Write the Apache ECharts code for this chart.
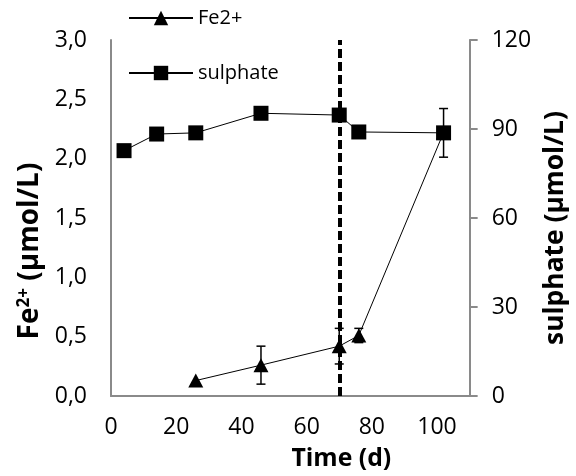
<!DOCTYPE html>
<html>
<head>
<meta charset="utf-8">
<script src="https://cdn.jsdelivr.net/npm/echarts@6/dist/echarts.min.js"></script>
<style>
  html, body { margin: 0; padding: 0; background: #fff; }
  #chart { width: 576px; height: 476px; }
</style>
</head>
<body>
<div id="chart"></div>
<script>
// Sampling days and measured concentrations
const sulphateDays = [4, 14, 26, 46, 70, 76, 102];
const sulphateValues = [82.7, 88.3, 88.7, 95.3, 94.7, 89.0, 88.7];   // µmol/L
const sulphateErrors = [null, null, null, null, null, null, 8.2];

const ironDays = [26, 46, 70, 76, 102];
const ironValues = [0.13, 0.26, 0.42, 0.51, 2.22];                    // µmol/L
const ironErrors = [null, 0.16, 0.15, 0.06, null];

const transitionDay = 70.3;

const xTicks = [0, 20, 40, 60, 80, 100];
const ironTicks = ['0,0', '0,5', '1,0', '1,5', '2,0', '2,5', '3,0'];
const sulphateTicks = [0, 30, 60, 90, 120];

const FONT = '"Open Sans", "Liberation Sans", sans-serif';
const AXIS_GREY = '#8a8a8a';

// Pick a bold font size so a title spans the wanted length in pixels
function fitBold(text, width) {
  const ctx = document.createElement('canvas').getContext('2d');
  ctx.font = 'bold 100px ' + FONT;
  return Math.round(100 * width / ctx.measureText(text).width * 10) / 10;
}

function pairs(xs, ys) {
  return xs.map((x, i) => [x, ys[i]]);
}
function errorRows(xs, ys, errs) {
  const rows = [];
  xs.forEach((x, i) => {
    if (errs[i] != null) rows.push([x, ys[i] - errs[i], ys[i] + errs[i]]);
  });
  return rows;
}

function renderErrorBar(params, api) {
  const x = api.value(0);
  const lo = api.coord([x, api.value(1)]);
  const hi = api.coord([x, api.value(2)]);
  const half = 4.5;
  const style = { stroke: '#000', lineWidth: 1.5 };
  return {
    type: 'group',
    children: [
      { type: 'line', shape: { x1: lo[0], y1: lo[1], x2: hi[0], y2: hi[1] }, style },
      { type: 'line', shape: { x1: hi[0] - half, y1: hi[1], x2: hi[0] + half, y2: hi[1] }, style },
      { type: 'line', shape: { x1: lo[0] - half, y1: lo[1], x2: lo[0] + half, y2: lo[1] }, style }
    ]
  };
}

const chart = echarts.init(document.getElementById('chart'), null, { renderer: 'canvas' });

const legendText = { fontFamily: FONT, fontSize: 20, color: '#000' };
const rightTitleSize = fitBold('sulphate (µmol/L)', 234);
const leftTitleSize = 28;
const timeTitleSize = fitBold('Time (d)', 100);
const boldText = size => ({ fontFamily: FONT, fontSize: size, fontWeight: 'bold', color: '#000' });

chart.setOption({
  animation: false,
  backgroundColor: '#fff',
  textStyle: { fontFamily: FONT },
  grid: { left: 111, right: 101, top: 40, bottom: 76, containLabel: false },
  legend: [
    {
      data: ['Fe2+'], left: 128, top: 8, itemWidth: 64, itemHeight: 18, itemGap: 10,
      textStyle: legendText, padding: 0
    },
    {
      data: ['sulphate'], left: 128, top: 63, itemWidth: 64, itemHeight: 18, itemGap: 10,
      textStyle: legendText, padding: 0
    }
  ],
  xAxis: {
    type: 'value', min: 0, max: 110, interval: 20,
    name: 'Time (d)', nameLocation: 'middle', nameGap: 50,
    nameTextStyle: Object.assign(boldText(timeTitleSize), { padding: [0, 0, 0, 102] }),
    axisLine: { lineStyle: { color: AXIS_GREY, width: 2 } },
    axisTick: { show: false },
    splitLine: { show: false },
    axisLabel: {
      fontFamily: FONT, fontSize: 23, color: '#000', margin: 20, showMaxLabel: false,
      formatter: v => (xTicks.includes(v) ? String(v) : '')
    }
  },
  yAxis: [
    {
      type: 'value', min: 0, max: 3, interval: 0.5, position: 'left',
      name: '{b|Fe}{s|2+}{b| (µmol/L)}', nameLocation: 'middle', nameGap: 64, nameRotate: 90,
      nameTextStyle: {
        padding: [0, 66, 0, 0],
        rich: {
          b: boldText(leftTitleSize),
          s: { fontFamily: FONT, fontSize: 17, fontWeight: 'bold', color: '#000', verticalAlign: 'top', padding: [0, 0, 11, 0] }
        }
      },
      axisLine: { show: true, lineStyle: { color: AXIS_GREY, width: 2 } },
      axisTick: { show: false },
      splitLine: { show: false },
      axisLabel: {
        fontFamily: FONT, fontSize: 23, color: '#000', margin: 24,
        formatter: v => ironTicks[Math.round(v * 2)]
      }
    },
    {
      type: 'value', min: 0, max: 120, interval: 30, position: 'right',
      name: 'sulphate (µmol/L)', nameLocation: 'middle', nameGap: 68, nameRotate: 90,
      nameTextStyle: Object.assign(boldText(rightTitleSize), { padding: [0, 20, 0, 0] }),
      axisLine: { show: true, lineStyle: { color: AXIS_GREY, width: 2 } },
      axisTick: { show: true, inside: false, length: 8, lineStyle: { color: AXIS_GREY, width: 2 } },
      splitLine: { show: false },
      axisLabel: {
        fontFamily: FONT, fontSize: 23, color: '#000', margin: 22,
        formatter: v => (sulphateTicks.includes(v) ? String(v) : '')
      }
    }
  ],
  series: [
    {
      name: 'sulphate-error', type: 'custom', yAxisIndex: 1, z: 1,
      renderItem: renderErrorBar,
      encode: { x: 0, y: [1, 2] },
      data: errorRows(sulphateDays, sulphateValues, sulphateErrors),
      silent: true
    },
    {
      name: 'Fe2+-error', type: 'custom', yAxisIndex: 0, z: 1,
      renderItem: renderErrorBar,
      encode: { x: 0, y: [1, 2] },
      data: errorRows(ironDays, ironValues, ironErrors),
      silent: true
    },
    {
      name: 'sulphate', type: 'line', yAxisIndex: 1, z: 3,
      data: pairs(sulphateDays, sulphateValues),
      symbol: 'rect', symbolSize: 15,
      lineStyle: { color: '#000', width: 1 },
      itemStyle: { color: '#000' },
      markLine: {
        silent: true, symbol: 'none', label: { show: false },
        lineStyle: { color: '#000', width: 4, type: [9, 4] },
        data: [{ xAxis: transitionDay }]
      }
    },
    {
      name: 'Fe2+', type: 'line', yAxisIndex: 0, z: 3,
      data: pairs(ironDays, ironValues),
      symbol: 'triangle', symbolSize: [15, 14],
      lineStyle: { color: '#000', width: 1 },
      itemStyle: { color: '#000' }
    }
  ]
});
</script>
</body>
</html>
